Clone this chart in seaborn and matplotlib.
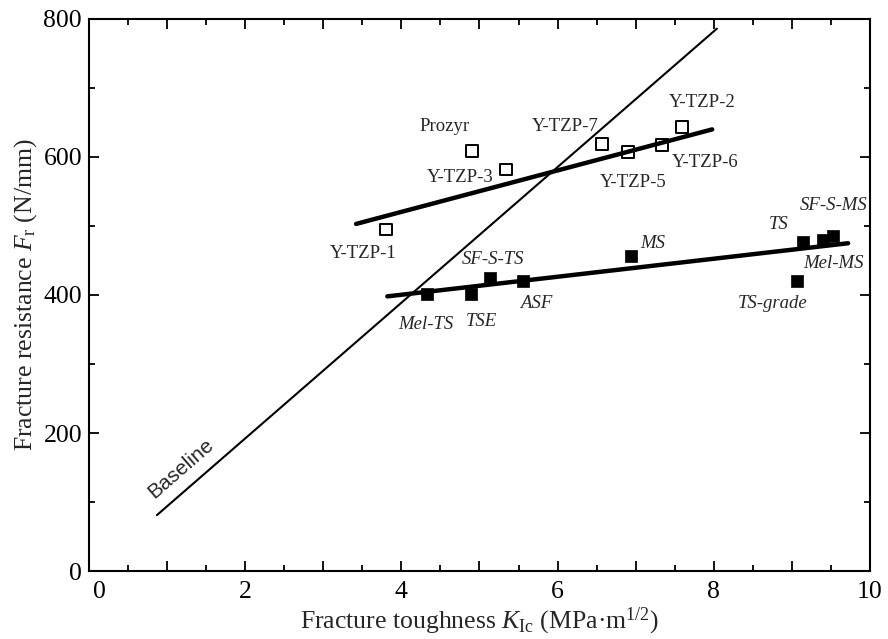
import numpy as np
import pandas as pd
import seaborn as sns
import matplotlib.pyplot as plt
from matplotlib.ticker import MultipleLocator, FuncFormatter
import matplotlib.transforms as mtransforms

# Y-TZP ceramics (open squares)
ytzp_names = ['Y-TZP-1', 'Prozyr', 'Y-TZP-3', 'Y-TZP-7', 'Y-TZP-5', 'Y-TZP-6', 'Y-TZP-2']
ytzp_kic = [3.80, 4.90, 5.34, 6.57, 6.90, 7.34, 7.59]
ytzp_fr = [495, 609, 582, 619, 607, 617, 643]

# other materials (filled squares)
other_names = ['Mel-TS', 'TSE', 'SF-S-TS', 'ASF', 'MS', 'TS-grade', 'TS', 'Mel-MS', 'SF-S-MS']
other_kic = [4.33, 4.89, 5.13, 5.56, 6.94, 9.07, 9.14, 9.40, 9.53]
other_fr = [401, 402, 424, 421, 456, 421, 477, 480, 486]

# trend lines
ytzp_fit_kic = [3.42, 7.98]
ytzp_fit_fr = [503, 640]
other_fit_kic = [3.82, 9.72]
other_fit_fr = [398, 475]
baseline_kic = [0.87, 8.04]
baseline_fr = [81, 786]

# label offsets from each marker (pixels, x right / y up)
ytzp_offsets = [(-23, -24), (-27, 24), (-46, -8), (-37, 17), (5, -30), (43, -17), (20, 25)]
other_offsets = [(-1, -30), (11, -28), (3, 19), (13, -23), (22, 13),
                 (-25, -23), (-24, 17), (10, -24), (0, 30)]

sns.set_style("ticks")
plt.rcParams.update({
    'font.family': ['Liberation Serif', 'DejaVu Serif'],
    'mathtext.fontset': 'custom',
    'mathtext.rm': 'Liberation Serif',
    'mathtext.it': 'Liberation Serif:italic',
    'axes.linewidth': 1.5,
    'axes.edgecolor': 'black',
})

df_ytzp = pd.DataFrame({'name': ytzp_names, 'kic': ytzp_kic, 'fr': ytzp_fr})
df_other = pd.DataFrame({'name': other_names, 'kic': other_kic, 'fr': other_fr})

fig = plt.figure(figsize=(8.88, 6.39), dpi=100)
ax = fig.add_axes([0.1002, 0.1064, 0.8795, 0.8639])

# lines
sns.lineplot(x=baseline_kic, y=baseline_fr, ax=ax, color='black', linewidth=1.5, zorder=2)
sns.lineplot(x=ytzp_fit_kic, y=ytzp_fit_fr, ax=ax, color='black', linewidth=3.2, zorder=2)
sns.lineplot(x=other_fit_kic, y=other_fit_fr, ax=ax, color='black', linewidth=3.2, zorder=2)

# points
sns.scatterplot(data=df_ytzp, x='kic', y='fr', ax=ax, marker='s', s=72,
                facecolor='none', edgecolor='black', linewidth=1.4, zorder=3)
sns.scatterplot(data=df_other, x='kic', y='fr', ax=ax, marker='s', s=80,
                color='black', edgecolor='black', linewidth=0.5, zorder=3)

# point labels
for name, xv, yv, off in zip(ytzp_names, ytzp_kic, ytzp_fr, ytzp_offsets):
    ax.annotate(name, (xv, yv), xytext=off, textcoords='offset pixels',
                ha='center', va='center', fontsize=13.5)
for name, xv, yv, off in zip(other_names, other_kic, other_fr, other_offsets):
    ax.annotate(name, (xv, yv), xytext=off, textcoords='offset pixels',
                ha='center', va='center', fontsize=13.5, style='italic')

ax.text(1.18, 148, 'Baseline', rotation=41, rotation_mode='anchor',
        ha='center', va='center', fontsize=15, family='Liberation Sans')

ax.set_xlim(0, 10)
ax.set_ylim(0, 800)
ax.xaxis.set_major_locator(MultipleLocator(1))
ax.xaxis.set_minor_locator(MultipleLocator(0.5))
ax.xaxis.set_major_formatter(FuncFormatter(lambda v, p: f"{v:.0f}" if round(v) % 2 == 0 else ''))
ax.yaxis.set_major_locator(MultipleLocator(200))
ax.yaxis.set_minor_locator(MultipleLocator(100))

ax.tick_params(which='both', direction='in', top=True, right=True, width=1.3, colors='black')
ax.tick_params(which='major', length=7.5, labelsize=18.5)
ax.tick_params(axis='x', which='major', pad=7)
ax.tick_params(axis='y', which='major', pad=5)
ax.tick_params(which='minor', length=4)
for s in ax.spines.values():
    s.set_visible(True)
    s.set_linewidth(1.5)

ax.set_xlabel('Fracture toughness $\\mathit{K}_\\mathrm{Ic}$ (MPa·m$^{1/2}$)', fontsize=18.5, labelpad=2)
ax.set_ylabel('Fracture resistance $\\mathit{F}_\\mathrm{r}$ (N/mm)', fontsize=18.5, labelpad=3)

# nudge the x "0" label away from the y "0"
fig.canvas.draw()
shift = mtransforms.ScaledTranslation(10 / 100, 0, fig.dpi_scale_trans)
for t in ax.xaxis.get_major_ticks():
    if abs(t.get_loc()) < 1e-9:
        t.label1.set_transform(t.label1.get_transform() + shift)

fig.savefig('out.png', dpi=100, facecolor='white')
